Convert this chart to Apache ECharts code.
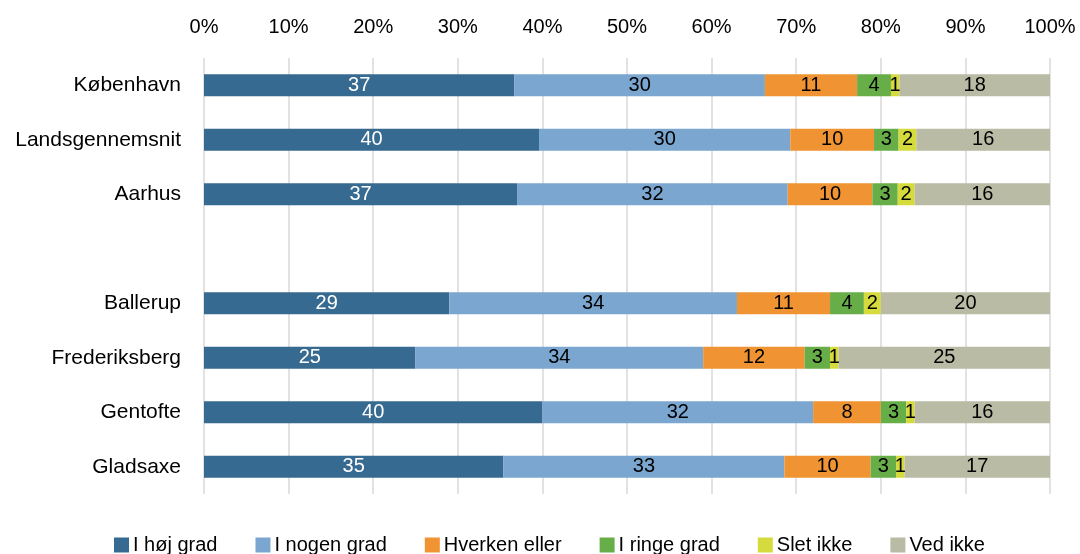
<!DOCTYPE html>
<html lang="da">
<head>
    <meta charset="utf-8">
    <title>Stacked bars</title>
    <script src="https://cdn.jsdelivr.net/npm/echarts@6/dist/echarts.min.js"></script>
    <style>
        html, body { margin: 0; padding: 0; background: #fff; }
        #chart { width: 1080px; height: 554px; }
    </style>
</head>
<body>
<div id="chart"></div>
<script type="text/javascript">
    // categories, top to bottom (empty one is the gap)
    var categories = ['København', 'Landsgennemsnit', 'Aarhus', '', 'Ballerup', 'Frederiksberg', 'Gentofte', 'Gladsaxe'];
    var seriesNames = ['I høj grad', 'I nogen grad', 'Hverken eller', 'I ringe grad', 'Slet ikke', 'Ved ikke'];
    var xTicks = [0, 10, 20, 30, 40, 50, 60, 70, 80, 90, 100];

    // percent shares
    var hoejGrad   = [36.7, 39.6, 37.0, null, 29.0, 25.0, 40.0, 35.4];
    var nogenGrad  = [29.6, 29.7, 32.0, null, 34.0, 34.0, 32.0, 33.2];
    var hverken    = [10.9,  9.9, 10.0, null, 11.0, 12.0,  8.0, 10.2];
    var ringeGrad  = [ 4.0,  2.9,  3.0, null,  4.0,  3.0,  3.0,  3.0];
    var sletIkke   = [ 1.0,  2.1,  2.0, null,  2.0,  1.0,  1.0,  1.0];
    var vedIkke    = [17.8, 15.8, 16.0, null, 20.0, 25.0, 16.0, 17.2];

    var seriesData = [hoejGrad, nogenGrad, hverken, ringeGrad, sletIkke, vedIkke];
    var colors = ['#376a91', '#7aa6cf', '#f09433', '#67ad48', '#d5db3d', '#b9bba4'];
    var labelColors = ['#ffffff', '#000000', '#000000', '#000000', '#000000', '#000000'];

    var FONT = '"Liberation Sans", Arial, sans-serif';

    var series = [];
    for (var i = 0; i < seriesNames.length; i++) {
        series.push({
            name: seriesNames[i],
            type: 'bar',
            stack: 'total',
            barWidth: 22,
            data: seriesData[i],
            itemStyle: { color: colors[i] },
            label: {
                show: true,
                position: 'inside',
                color: labelColors[i],
                fontFamily: FONT,
                fontSize: 20,
                formatter: function (p) {
                    return p.value == null ? '' : Math.round(p.value);
                }
            },
            emphasis: { disabled: true }
        });
    }

    var myChart = echarts.init(document.getElementById('chart'));
    var option = {
        animation: false,
        backgroundColor: '#ffffff',
        grid: { left: 204, right: 30, top: 58, height: 436 },
        legend: {
            top: 535,
            left: 114,
            padding: 0,
            itemWidth: 15,
            itemHeight: 15,
            itemGap: 38,
            icon: 'rect',
            textStyle: { fontFamily: FONT, fontSize: 20, color: '#000', padding: [0, 0, 0, -1] },
            data: seriesNames
        },
        xAxis: {
            type: 'value',
            position: 'top',
            min: xTicks[0],
            max: xTicks[xTicks.length - 1],
            interval: 10,
            axisLine: { show: false },
            axisTick: { show: false },
            axisLabel: {
                formatter: '{value}%',
                fontFamily: FONT,
                fontSize: 20,
                color: '#000',
                margin: 21
            },
            splitLine: { show: true, lineStyle: { color: '#d9d9d9', width: 1.5 } }
        },
        yAxis: {
            type: 'category',
            inverse: true,
            data: categories,
            axisLine: { show: false },
            axisTick: { show: false },
            axisLabel: {
                fontFamily: FONT,
                fontSize: 21,
                color: '#000',
                margin: 23
            }
        },
        series: series
    };
    myChart.setOption(option);
</script>
</body>
</html>
